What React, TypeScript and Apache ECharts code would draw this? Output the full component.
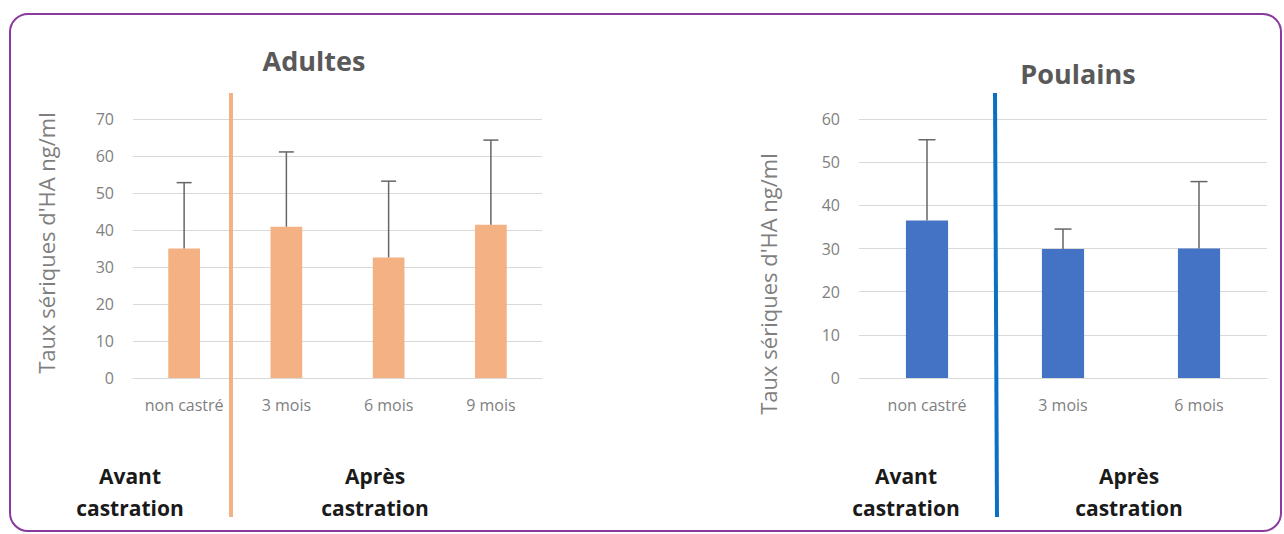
import React, { useEffect, useRef } from "react";
import * as echarts from "echarts";

// Adult horses: serum HA (ng/ml), mean and standard deviation
const adultCategories = ["non castré", "3 mois", "6 mois", "9 mois"];
const adultMeans = [35.0, 40.9, 32.6, 41.4];
const adultSd = [17.8, 20.2, 20.6, 22.9];
const adultTicks = { min: 0, max: 70, interval: 10 };

// Foals: serum HA (ng/ml), mean and standard deviation
const foalCategories = ["non castré", "3 mois", "6 mois"];
const foalMeans = [36.5, 29.9, 30.0];
const foalSd = [18.7, 4.6, 15.5];
const foalTicks = { min: 0, max: 60, interval: 10 };

const titles = ["Adultes", "Poulains"];
const axisName = "Taux sériques d'HA ng/ml";
const phaseLabels = ["Avant\ncastration", "Après\ncastration"];

const FONT = "'Open Sans', 'Noto Sans', sans-serif";
const ORANGE = "#F4B183";
const BLUE = "#4472C4";
const DIVIDER_BLUE = "#0A70C4";
const GRID_GREY = "#D9D9D9";
const LABEL_GREY = "#7F7F7F";
const ERR_GREY = "#666666";

function errorBarSeries(
  gridIdx: number,
  means: number[],
  sd: number[],
  cap: number
) {
  return {
    type: "custom",
    xAxisIndex: gridIdx,
    yAxisIndex: gridIdx,
    z: 3,
    encode: { x: 0, y: [1, 2] },
    data: means.map((m, i) => [i, m, m + sd[i]]),
    renderItem: (params: any, api: any) => {
      const idx = api.value(0);
      const base = api.coord([idx, api.value(1)]);
      const top = api.coord([idx, api.value(2)]);
      const style = { stroke: ERR_GREY, lineWidth: 1.5 };
      return {
        type: "group",
        children: [
          {
            type: "line",
            shape: { x1: base[0], y1: base[1], x2: top[0], y2: top[1] },
            style,
          },
          {
            type: "line",
            shape: {
              x1: top[0] - cap / 2,
              y1: top[1],
              x2: top[0] + cap / 2,
              y2: top[1],
            },
            style,
          },
        ],
      };
    },
  };
}

function xAxisFor(gridIdx: number, cats: string[]) {
  return {
    type: "category",
    gridIndex: gridIdx,
    data: cats,
    axisLine: { show: true, lineStyle: { color: GRID_GREY, width: 1 } },
    axisTick: { show: false },
    axisLabel: {
      color: LABEL_GREY,
      fontFamily: FONT,
      fontSize: 16,
      margin: 19,
      interval: 0,
    },
  };
}

function yAxisFor(gridIdx: number, t: { min: number; max: number; interval: number }) {
  return {
    type: "value",
    gridIndex: gridIdx,
    min: t.min,
    max: t.max,
    interval: t.interval,
    axisLine: { show: false },
    axisTick: { show: false },
    splitLine: { lineStyle: { color: GRID_GREY, width: 1 } },
    axisLabel: {
      color: LABEL_GREY,
      fontFamily: FONT,
      fontSize: 16,
      margin: 19,
    },
  };
}

export default function App() {
  const ref = useRef<HTMLDivElement>(null);

  useEffect(() => {
    if (!ref.current) return;
    const chart = echarts.init(ref.current, null, { renderer: "svg" });

    const option: any = {
      animation: false,
      backgroundColor: "#ffffff",
      grid: [
        { left: 133, top: 119, width: 409, height: 259 },
        { left: 859, top: 119, width: 408, height: 259 },
      ],
      xAxis: [xAxisFor(0, adultCategories), xAxisFor(1, foalCategories)],
      yAxis: [yAxisFor(0, adultTicks), yAxisFor(1, foalTicks)],
      series: [
        {
          type: "bar",
          xAxisIndex: 0,
          yAxisIndex: 0,
          barWidth: "31%",
          itemStyle: { color: ORANGE },
          data: adultMeans,
        },
        errorBarSeries(0, adultMeans, adultSd, 15),
        {
          type: "bar",
          xAxisIndex: 1,
          yAxisIndex: 1,
          barWidth: "31%",
          itemStyle: { color: BLUE },
          data: foalMeans,
        },
        errorBarSeries(1, foalMeans, foalSd, 17),
      ],
      graphic: [
        // rounded frame
        {
          type: "rect",
          shape: { x: 10, y: 14, width: 1271, height: 517, r: 18 },
          style: { fill: "none", stroke: "#8A3A9C", lineWidth: 2 },
          z: 0,
        },
        // chart titles
        {
          type: "text",
          x: 314,
          y: 60,
          style: {
            text: titles[0],
            fill: "#595959",
            font: `bold 27px ${FONT}`,
            align: "center",
            verticalAlign: "middle",
          },
        },
        {
          type: "text",
          x: 1078,
          y: 73,
          style: {
            text: titles[1],
            fill: "#595959",
            font: `bold 27px ${FONT}`,
            align: "center",
            verticalAlign: "middle",
          },
        },
        // vertical axis names
        {
          type: "text",
          x: 46,
          y: 243,
          rotation: Math.PI / 2,
          style: {
            text: axisName,
            fill: LABEL_GREY,
            font: `22px ${FONT}`,
            align: "center",
            verticalAlign: "middle",
          },
        },
        {
          type: "text",
          x: 768,
          y: 284,
          rotation: Math.PI / 2,
          style: {
            text: axisName,
            fill: LABEL_GREY,
            font: `22px ${FONT}`,
            align: "center",
            verticalAlign: "middle",
          },
        },
        // before / after dividers
        {
          type: "line",
          shape: { x1: 231, y1: 93, x2: 231, y2: 517 },
          style: { stroke: ORANGE, lineWidth: 4 },
          z: 10,
        },
        {
          type: "line",
          shape: { x1: 995, y1: 93, x2: 997, y2: 517 },
          style: { stroke: DIVIDER_BLUE, lineWidth: 4 },
          z: 10,
        },
        // phase labels
        ...[
          { x: 130, text: phaseLabels[0] },
          { x: 375, text: phaseLabels[1] },
          { x: 906, text: phaseLabels[0] },
          { x: 1129, text: phaseLabels[1] },
        ].map((p) => ({
          type: "text",
          x: p.x,
          y: 492,
          style: {
            text: p.text,
            fill: "#1a1a1a",
            font: `bold 21px ${FONT}`,
            lineHeight: 32,
            align: "center",
            verticalAlign: "middle",
          },
        })),
      ],
    };

    chart.setOption(option);
    return () => chart.dispose();
  }, []);

  return (
    <div
      ref={ref}
      style={{ position: "absolute", left: 0, top: 0, width: 1284, height: 534 }}
    />
  );
}
